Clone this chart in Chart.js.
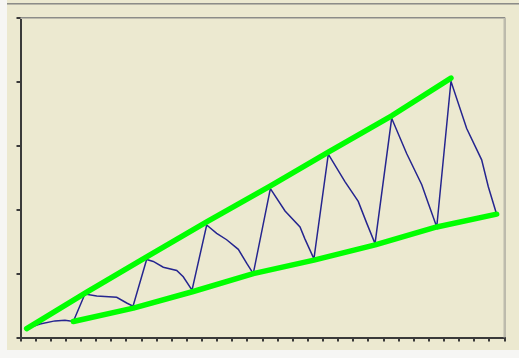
<!DOCTYPE html>
<html>
<head>
<meta charset="utf-8">
<script src="https://cdn.jsdelivr.net/npm/chart.js@4/dist/chart.umd.min.js"></script>
<style>
  html, body { margin: 0; padding: 0; background: #f6f6f4; }
  #wrap { position: relative; width: 519px; height: 358px; }
  canvas { display: block; }
</style>
</head>
<body>
<div id="wrap"><canvas id="c" width="519" height="358"></canvas></div>
<script>
// Price path (zigzag)
const priceX = [0.41, 1.29, 2.28, 2.94, 3.49, 4.26, 5.04, 6.36, 7.02, 7.44,
  8.34, 8.78, 9.44, 10.33, 10.76, 11.34, 12.31, 12.97, 13.63, 14.40, 14.96, 15.39,
  16.52, 17.49, 18.48, 18.81, 19.40, 20.35, 21.45, 22.33, 22.89, 23.44,
  24.54, 25.53, 26.53, 26.96, 27.52, 28.46, 29.50, 30.49, 30.93, 31.48];
const priceY = [0.14, 0.21, 0.26, 0.27, 0.25, 0.68, 0.65, 0.63, 0.54, 0.49,
  1.22, 1.19, 1.10, 1.05, 0.95, 0.74, 1.76, 1.63, 1.53, 1.38, 1.16, 1.00,
  2.33, 1.98, 1.73, 1.54, 1.23, 2.87, 2.44, 2.13, 1.79, 1.47,
  3.43, 2.88, 2.39, 2.10, 1.73, 4.01, 3.27, 2.78, 2.36, 1.93];
// Upper trend line (through the peaks)
const upperX = [0.41, 4.38, 8.34, 12.31, 16.50, 20.35, 24.54, 28.46];
const upperY = [0.14, 0.71, 1.26, 1.81, 2.37, 2.90, 3.47, 4.06];
// Lower trend line (through the troughs)
const lowerX = [3.49, 7.46, 11.42, 15.39, 19.40, 23.45, 27.52, 31.48];
const lowerY = [0.25, 0.46, 0.72, 1.00, 1.21, 1.45, 1.73, 1.93];
// Axis ranges
const xMin = 0, xMax = 32, xStep = 1;
const yMin = 0, yMax = 5, yStep = 1;

const toPts = (xs, ys) => xs.map((x, i) => ({ x: x, y: ys[i] }));

const bgPlugin = {
  id: 'bg',
  beforeDraw(chart) {
    const ctx = chart.ctx;
    ctx.save();
    ctx.fillStyle = '#f6f6f4';
    ctx.fillRect(0, 0, chart.width, chart.height);
    ctx.fillStyle = '#ece9d0';
    ctx.fillRect(7, 0, chart.width - 7, 350);
    ctx.fillStyle = '#8c8c88';
    ctx.fillRect(7, 3, chart.width - 7, 1);
    ctx.fillStyle = '#b8b6a8';
    ctx.fillRect(7, 4, chart.width - 7, 1);
    ctx.restore();
  },
  afterDraw(chart) {
    const a = chart.chartArea;
    const ctx = chart.ctx;
    ctx.save();
    ctx.strokeStyle = '#8c8c88';
    ctx.lineWidth = 1;
    ctx.beginPath();
    ctx.moveTo(a.left, a.top - 0.5);
    ctx.lineTo(a.right + 0.5, a.top - 0.5);
    ctx.lineTo(a.right + 0.5, a.bottom);
    ctx.stroke();
    ctx.strokeStyle = '#bdbbad';
    ctx.beginPath();
    ctx.moveTo(a.left, a.top + 0.5);
    ctx.lineTo(a.right - 0.5, a.top + 0.5);
    ctx.lineTo(a.right - 0.5, a.bottom);
    ctx.stroke();
    ctx.restore();
  }
};

new Chart(document.getElementById('c'), {
  type: 'line',
  data: {
    datasets: [
      {
        label: 'Upper',
        data: toPts(upperX, upperY),
        borderColor: '#00ff00',
        borderWidth: 5.5,
        borderCapStyle: 'round',
        borderJoinStyle: 'round',
        pointRadius: 0,
        tension: 0,
        order: 0
      },
      {
        label: 'Lower',
        data: toPts(lowerX, lowerY),
        borderColor: '#00ff00',
        borderWidth: 5.5,
        borderCapStyle: 'round',
        borderJoinStyle: 'round',
        pointRadius: 0,
        tension: 0,
        order: 0
      },
      {
        label: 'Price',
        data: toPts(priceX, priceY),
        borderColor: '#25258f',
        borderWidth: 1.5,
        pointRadius: 0,
        tension: 0,
        order: 1
      }
    ]
  },
  options: {
    responsive: false,
    animation: false,
    events: [],
    layout: { padding: { left: 16.5, right: 14.5, top: 18, bottom: 16.5 } },
    plugins: { legend: { display: false }, tooltip: { enabled: false }, title: { display: false } },
    scales: {
      x: {
        type: 'linear',
        min: xMin, max: xMax,
        ticks: { display: false, stepSize: xStep },
        grid: { drawOnChartArea: false, drawTicks: true, tickLength: 4, color: '#3a3a3a', lineWidth: 2 },
        border: { display: true, color: '#3a3a3a', width: 2 }
      },
      y: {
        type: 'linear',
        min: yMin, max: yMax,
        ticks: { display: false, stepSize: yStep },
        grid: { drawOnChartArea: false, drawTicks: true, tickLength: 4, color: '#3a3a3a', lineWidth: 2 },
        border: { display: true, color: '#3a3a3a', width: 2 }
      }
    }
  },
  plugins: [bgPlugin]
});
</script>
</body>
</html>
